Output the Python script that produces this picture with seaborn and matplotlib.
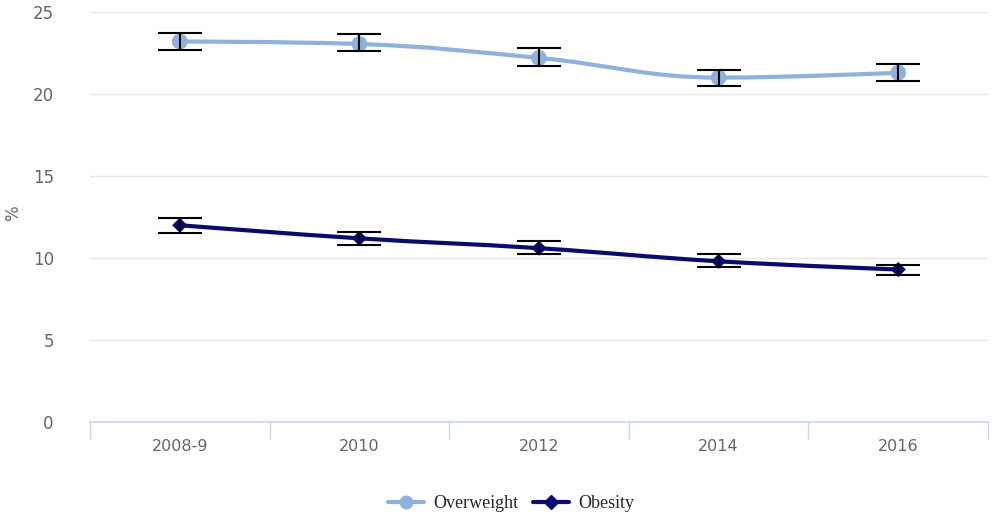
import numpy as np
import pandas as pd
import matplotlib
matplotlib.use("Agg")
import matplotlib.pyplot as plt
import seaborn as sns
from matplotlib.path import Path
from matplotlib.patches import PathPatch
from matplotlib.lines import Line2D

categories = ["2008-9", "2010", "2012", "2014", "2016"]
overweight = [23.2, 23.05, 22.2, 21.0, 21.3]
overweight_low = [22.7, 22.6, 21.7, 20.5, 20.8]
overweight_high = [23.7, 23.65, 22.8, 21.45, 21.8]
obesity = [12.0, 11.2, 10.6, 9.8, 9.3]
obesity_low = [11.5, 10.8, 10.25, 9.45, 8.95]
obesity_high = [12.45, 11.6, 11.05, 10.25, 9.6]
y_ticks = [0, 5, 10, 15, 20, 25]

C_OVER = "#8fb1dc"
C_OBES = "#0b0b6b"

sns.set_theme(style="white")
plt.rcParams["font.family"] = ["DejaVu Sans"]

fig = plt.figure(figsize=(9.92, 5.18), dpi=100)
ax = fig.add_axes([0.0907, 0.1853, 0.9053, 0.7915])

pos = np.arange(len(categories))
df_over = pd.DataFrame({"pos": pos, "value": overweight})
df_obes = pd.DataFrame({"pos": pos, "value": obesity})


def spline_path(xs, ys):
    smoothing, denom = 1.5, 2.5
    n = len(xs)
    lc = [None] * n
    rc = [None] * n
    for i in range(1, n - 1):
        x, y = xs[i], ys[i]
        lx, ly = xs[i - 1], ys[i - 1]
        nx, ny = xs[i + 1], ys[i + 1]
        lcx = (smoothing * x + lx) / denom
        lcy = (smoothing * y + ly) / denom
        rcx = (smoothing * x + nx) / denom
        rcy = (smoothing * y + ny) / denom
        corr = ((rcy - lcy) * (rcx - x)) / (rcx - lcx) + y - rcy
        lcy += corr
        rcy += corr
        if lcy > ly and lcy > y:
            lcy = max(ly, y); rcy = 2 * y - lcy
        elif lcy < ly and lcy < y:
            lcy = min(ly, y); rcy = 2 * y - lcy
        if rcy > ny and rcy > y:
            rcy = max(ny, y); lcy = 2 * y - rcy
        elif rcy < ny and rcy < y:
            rcy = min(ny, y); lcy = 2 * y - rcy
        lc[i] = (lcx, lcy)
        rc[i] = (rcx, rcy)
    verts = [(xs[0], ys[0])]
    codes = [Path.MOVETO]
    for i in range(1, n):
        c1 = rc[i - 1] if rc[i - 1] is not None else (xs[i - 1], ys[i - 1])
        c2 = lc[i] if lc[i] is not None else (xs[i], ys[i])
        verts += [c1, c2, (xs[i], ys[i])]
        codes += [Path.CURVE4] * 3
    return Path(verts, codes)


for vals, col in [(overweight, C_OVER), (obesity, C_OBES)]:
    p = spline_path(list(pos.astype(float)), list(vals))
    ax.add_patch(PathPatch(p, facecolor="none", edgecolor=col, lw=3, zorder=2,
                           capstyle="round", joinstyle="round"))

sns.scatterplot(data=df_over, x="pos", y="value", color=C_OVER, marker="o",
                s=130, edgecolor="none", legend=False, ax=ax, zorder=3)
sns.scatterplot(data=df_obes, x="pos", y="value", color=C_OBES, marker="D",
                s=60, edgecolor="none", legend=False, ax=ax, zorder=3)

for vals, lo, hi in [(overweight, overweight_low, overweight_high),
                     (obesity, obesity_low, obesity_high)]:
    v = np.array(vals)
    err = np.vstack([v - np.array(lo), np.array(hi) - v])
    ax.errorbar(pos, v, yerr=err, fmt="none", ecolor="black", elinewidth=1.5,
                capsize=16, capthick=1.5, zorder=4)

ax.set_xlim(-0.5, len(categories) - 0.5)
ax.set_ylim(0, 25)
ax.set_yticks(y_ticks)
ax.set_xticks(pos)
ax.set_xticklabels(categories)
ax.set_xticks(np.arange(-0.5, len(categories), 1.0), minor=True)
ax.grid(axis="y", color="#e6e6e6", lw=1)
ax.set_axisbelow(True)
for s in ["top", "right", "left"]:
    ax.spines[s].set_visible(False)
ax.spines["bottom"].set_color("#ccd6eb")
ax.spines["bottom"].set_linewidth(1.2)
ax.tick_params(axis="x", which="major", length=0, pad=12, labelsize=11.5, labelcolor="#666666")
ax.tick_params(axis="x", which="minor", length=12, width=1, color="#ccd6eb", bottom=True)
ax.tick_params(axis="y", length=0, pad=26, labelsize=12, labelcolor="#666666")
ax.set_xlabel("")
ax.set_ylabel("%", fontsize=12, color="#666666")
ax.yaxis.set_label_coords(-0.076, 0.51)

handles = [
    Line2D([0], [0], color=C_OVER, lw=3, marker="o", markersize=9),
    Line2D([0], [0], color=C_OBES, lw=3, marker="D", markersize=7),
]
fig.legend(handles, ["Overweight", "Obesity"], loc="center", bbox_to_anchor=(0.515, 0.028),
           ncol=2, frameon=False, handlelength=2.0, columnspacing=0.8, handletextpad=0.5,
           prop={"family": "Liberation Serif", "size": 13})

fig.savefig("out.png", dpi=100)
